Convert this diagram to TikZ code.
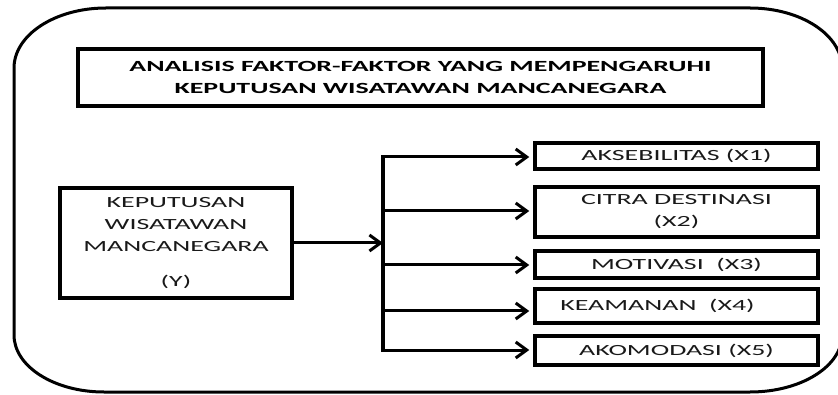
\documentclass[tikz,border=0pt]{standalone}
\usepackage{fontspec}
\setmainfont{Carlito}[FakeStretch=1.8]
\usetikzlibrary{arrows.meta}
\tikzset{
  boxnode/.style={draw, line width=3.5pt, inner sep=0pt, align=center, text=black!90,
    font=\fontsize{15.5}{22}\selectfont},
  titlenode/.style={boxnode, font=\fontsize{15.5}{22}\selectfont\bfseries, text=black},
  frameline/.style={line width=3pt, line join=round},
  conn/.style={line width=3pt, -{Straight Barb[length=11pt,width=16pt]}},
  busline/.style={line width=3.5pt}
}
\begin{document}
\begin{tikzpicture}[x=1pt,y=-1pt]
\useasboundingbox (0,0) rectangle (838,395);
\begin{scope}
\clip (0,0) rectangle (838,395);
\draw[frameline] (14,68) arc[start angle=180,end angle=270,x radius=92,y radius=60]
  -- (750,8) arc[start angle=270,end angle=360,x radius=92,y radius=60]
  -- (842,335) arc[start angle=0,end angle=90,x radius=92,y radius=57]
  -- (104,392) arc[start angle=90,end angle=180,x radius=90,y radius=57] -- cycle;
\end{scope}

\node[titlenode, minimum width=685pt, minimum height=57pt] (title) at (420.5,77.5)
  {ANALISIS FAKTOR-FAKTOR YANG MEMPENGARUHI\\KEPUTUSAN WISATAWAN MANCANEGARA};

\node[boxnode, minimum width=232pt, minimum height=110pt] (y) at (176,243)
  {KEPUTUSAN\\WISATAWAN\\MANCANEGARA\\[13pt](Y)};

\node[boxnode, minimum width=283pt, minimum height=26pt] (x1) at (676.5,156) {AKSEBILITAS (X1)};
\node[boxnode, minimum width=283pt, minimum height=50pt] (x2) at (676.5,212) {CITRA DESTINASI\\(X2)};
\node[boxnode, minimum width=283pt, minimum height=27pt] (x3) at (676.5,264.5) {MOTIVASI\ \ (X3)};
\node[boxnode, minimum width=283pt, minimum height=34pt] (x4) at (676.5,306) {\hspace*{-38pt}KEAMANAN\ \ (X4)};
\node[boxnode, minimum width=283pt, minimum height=29pt] (x5) at (676.5,350.5) {AKOMODASI (X5)};

\coordinate (b1) at (383,157);
\coordinate (b2) at (383,211);
\coordinate (b3) at (383,265);
\coordinate (b4) at (383,311);
\coordinate (b5) at (383,350);
\coordinate (bm) at (383,243);

\draw[busline, line cap=rect] (b1) -- (b5);
\draw[conn] (y.east |- bm) -- (bm);
\draw[conn, shorten >=4pt] (b1) -- (b1 -| x1.west);
\draw[conn, shorten >=4pt] (b2) -- (b2 -| x2.west);
\draw[conn, shorten >=4pt] (b3) -- (b3 -| x3.west);
\draw[conn, shorten >=4pt] (b4) -- (b4 -| x4.west);
\draw[conn, shorten >=4pt] (b5) -- (b5 -| x5.west);
\end{tikzpicture}
\end{document}
